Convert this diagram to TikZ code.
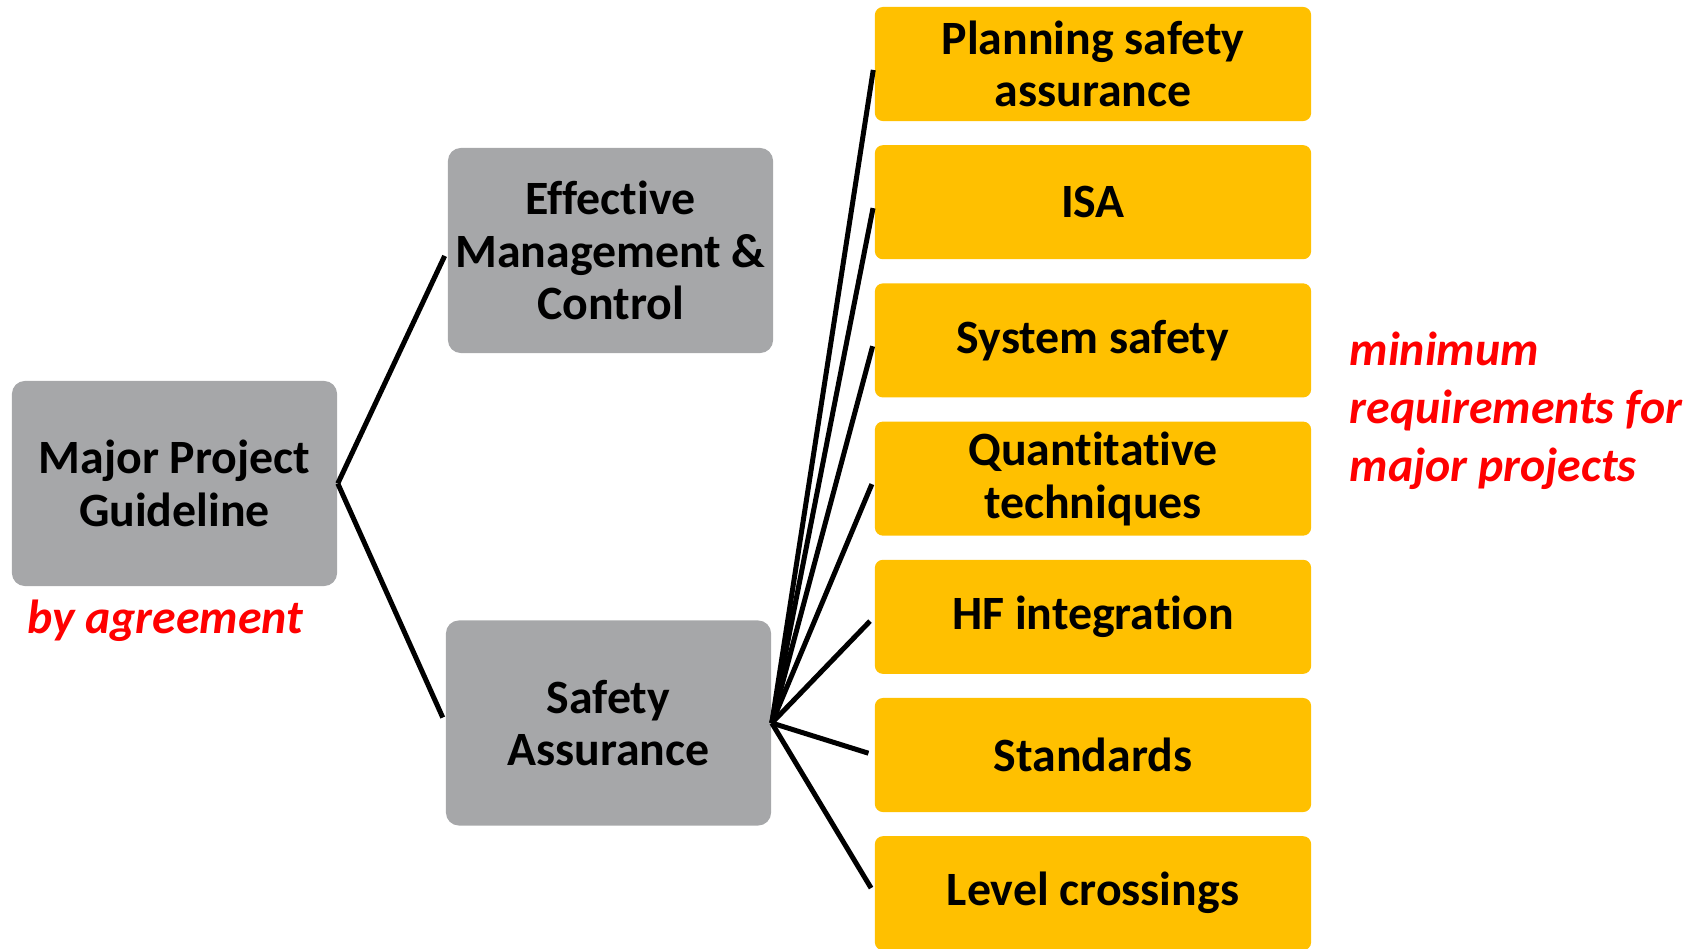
\documentclass[tikz,border=0pt]{standalone}
\usepackage{fontspec}
\setmainfont[Ligatures=CommonOff]{Carlito}
\usepackage{tikz}
\definecolor{boxgray}{RGB}{166,167,169}
\definecolor{boxyellow}{RGB}{255,192,0}
\definecolor{notered}{RGB}{255,0,0}
\tikzset{
	graybox/.style={fill=boxgray, rounded corners=0.13cm, minimum width=3.25cm, minimum height=2.05cm, inner sep=0pt, align=center, font=\fontsize{13.6}{15}\selectfont\bfseries},
	yellowbox/.style={fill=boxyellow, rounded corners=0.08cm, minimum width=4.36cm, minimum height=1.14cm, inner sep=0pt, align=center, font=\fontsize{13.6}{15}\selectfont\bfseries},
	link/.style={line width=0.05cm, shorten >=0.06cm},
	note/.style={text=notered, inner sep=0pt, font=\fontsize{13.6}{16.5}\selectfont\bfseries\itshape}
}

\begin{document}
\begin{tikzpicture}[x=0.01cm,y=-0.01cm]
						\useasboundingbox (0,0) rectangle (1691,948);
						
						\node[graybox] (MPG) at (174.5,483.5) {Major Project\\Guideline};
						\node[graybox] (EMC) at (610.5,250.5) {Effective\\Management \&\\Control};
						\node[graybox] (SA) at (608.5,723) {Safety\\Assurance};
						
						\node[yellowbox] (PSA) at (1093,64) {Planning safety\\assurance};
						\node[yellowbox] (ISA) at (1093,202.2) {ISA};
						\node[yellowbox] (SYS) at (1093,340.4) {System safety};
						\node[yellowbox] (QT) at (1093,478.6) {Quantitative\\techniques};
						\node[yellowbox] (HF) at (1093,616.8) {HF integration};
						\node[yellowbox] (STD) at (1093,755) {Standards};
						\node[yellowbox] (LC) at (1093,893.2) {Level crossings};
						
						\draw[link] (MPG.east) -- (EMC.west);
						\draw[link] (MPG.east) -- (SA.west);
						\foreach \n in {PSA,ISA,SYS,QT,HF,STD,LC}
							\draw[link] (SA.east) -- (\n.west);
						
						\node[note] (agree) at (165,621) {by agreement};
						\node[note, anchor=west, align=left] (minreq) at (1349,411) {minimum\\requirements for\\major projects};
					\end{tikzpicture}
\end{document}
